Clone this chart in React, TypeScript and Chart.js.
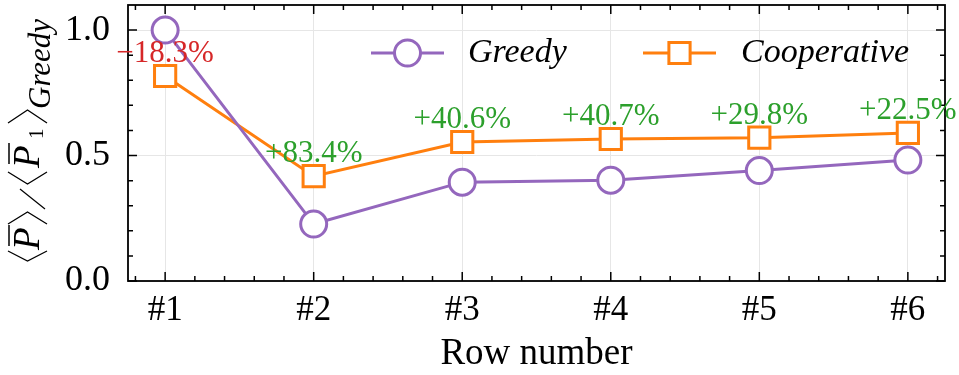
import React, { useEffect, useRef } from "react";
import { Chart, registerables } from "chart.js";

Chart.register(...registerables);

const categories = ["#1", "#2", "#3", "#4", "#5", "#6"];
const greedy = [1.0, 0.227, 0.394, 0.402, 0.44, 0.482];
const cooperative = [0.817, 0.418, 0.554, 0.566, 0.571, 0.59];
const changeLabels = ["\u221218.3%", "+83.4%", "+40.6%", "+40.7%", "+29.8%", "+22.5%"];
const yTicks = [0, 0.5, 1.0];
const seriesNames = ["Greedy", "Cooperative"];
const xTitle = "Row number";

const PURPLE = "#9467bd";
const ORANGE = "#ff7f0e";
const GREEN = "#2ca02c";
const RED = "#d62728";
const GRID = "#e6e6e6";
const SERIF = '"Liberation Serif", "Times New Roman", serif';

function drawMarker(ctx: CanvasRenderingContext2D, kind: string, x: number, y: number, color: string) {
  ctx.save();
  ctx.lineWidth = 3;
  ctx.strokeStyle = color;
  ctx.fillStyle = "#fff";
  ctx.beginPath();
  if (kind === "circle") {
    ctx.arc(x, y, 13, 0, Math.PI * 2);
  } else {
    const h = 15 * Math.SQRT1_2;
    ctx.rect(x - h, y - h, 2 * h, 2 * h);
  }
  ctx.fill();
  ctx.stroke();
  ctx.restore();
}

function drawBracket(ctx: CanvasRenderingContext2D, tipU: number, armU: number) {
  ctx.beginPath();
  ctx.moveTo(armU, -31);
  ctx.lineTo(tipU, -11.5);
  ctx.lineTo(armU, 8);
  ctx.stroke();
}

function drawYLabel(ctx: CanvasRenderingContext2D) {
  ctx.save();
  ctx.translate(39, 262);
  ctx.rotate(-Math.PI / 2);
  ctx.fillStyle = "#000";
  ctx.strokeStyle = "#000";
  ctx.lineWidth = 1.3;
  ctx.textAlign = "left";
  ctx.textBaseline = "alphabetic";
  drawBracket(ctx, 1, 11);
  ctx.font = `italic 37px ${SERIF}`;
  ctx.fillText("P", 12, 0);
  ctx.lineWidth = 1.5;
  ctx.beginPath();
  ctx.moveTo(16, -30);
  ctx.lineTo(37, -30);
  ctx.stroke();
  ctx.lineWidth = 1.3;
  drawBracket(ctx, 50, 38);
  ctx.beginPath();
  ctx.moveTo(53, 6);
  ctx.lineTo(73, -19);
  ctx.stroke();
  drawBracket(ctx, 78, 90);
  ctx.font = `italic 37px ${SERIF}`;
  ctx.fillText("P", 94, 0);
  ctx.lineWidth = 1.5;
  ctx.beginPath();
  ctx.moveTo(98, -30);
  ctx.lineTo(119, -30);
  ctx.stroke();
  ctx.lineWidth = 1.3;
  ctx.font = `21px ${SERIF}`;
  ctx.fillText("1", 123, 4);
  drawBracket(ctx, 152, 139);
  ctx.font = `italic 31px ${SERIF}`;
  ctx.fillText("Greedy", 153, 11);
  ctx.restore();
}

const customPlugin = {
  id: "custom",
  afterDatasetsDraw(chart: any) {
    const ctx: CanvasRenderingContext2D = chart.ctx;
    const { left, right, top, bottom } = chart.chartArea;
    const xs = chart.scales.x;
    const ys = chart.scales.y;

    ctx.save();
    ctx.strokeStyle = "#000";
    ctx.lineWidth = 1.5;
    ctx.beginPath();
    const maj = 9;
    const min = 5;
    for (let i = 0; i < categories.length; i++) {
      const px = xs.getPixelForValue(i);
      ctx.moveTo(px, bottom); ctx.lineTo(px, bottom - maj);
      ctx.moveTo(px, top); ctx.lineTo(px, top + maj);
    }
    for (let k = -1; k <= 26; k++) {
      if (k % 5 === 0) continue;
      const v = k / 5;
      if (v < xs.min || v > xs.max) continue;
      const px = xs.getPixelForValue(v);
      ctx.moveTo(px, bottom); ctx.lineTo(px, bottom - min);
      ctx.moveTo(px, top); ctx.lineTo(px, top + min);
    }
    for (const v of yTicks) {
      const py = ys.getPixelForValue(v);
      ctx.moveTo(left, py); ctx.lineTo(left + maj, py);
      ctx.moveTo(right, py); ctx.lineTo(right - maj, py);
    }
    for (let k = 1; k <= 10; k++) {
      if (k % 5 === 0) continue;
      const py = ys.getPixelForValue(k / 10);
      ctx.moveTo(left, py); ctx.lineTo(left + min, py);
      ctx.moveTo(right, py); ctx.lineTo(right - min, py);
    }
    ctx.stroke();
    ctx.lineWidth = 1.8;
    ctx.strokeRect(left, top, right - left, bottom - top);
    ctx.restore();

    // percentage annotations
    ctx.save();
    ctx.font = `31px ${SERIF}`;
    ctx.textAlign = "center";
    ctx.textBaseline = "alphabetic";
    for (let i = 0; i < cooperative.length; i++) {
      const px = xs.getPixelForValue(i);
      const py = ys.getPixelForValue(cooperative[i]);
      ctx.fillStyle = changeLabels[i].startsWith("+") ? GREEN : RED;
      ctx.fillText(changeLabels[i], px, py - 14);
    }
    ctx.restore();

    // legend
    ctx.save();
    const ly = 53;
    ctx.lineWidth = 3;
    ctx.strokeStyle = PURPLE;
    ctx.beginPath();
    ctx.moveTo(371, ly); ctx.lineTo(444, ly);
    ctx.stroke();
    drawMarker(ctx, "circle", 407.5, ly, PURPLE);
    ctx.strokeStyle = ORANGE;
    ctx.beginPath();
    ctx.moveTo(643, ly); ctx.lineTo(716, ly);
    ctx.stroke();
    drawMarker(ctx, "rect", 679.5, ly, ORANGE);
    ctx.fillStyle = "#000";
    ctx.font = `italic 34px ${SERIF}`;
    ctx.textAlign = "left";
    ctx.textBaseline = "middle";
    ctx.fillText(seriesNames[0], 468, ly);
    ctx.fillText(seriesNames[1], 741, ly);
    ctx.restore();

    // x title
    ctx.save();
    ctx.fillStyle = "#000";
    ctx.font = `37px ${SERIF}`;
    ctx.textAlign = "center";
    ctx.textBaseline = "alphabetic";
    ctx.fillText(xTitle, (left + right) / 2, 364);
    ctx.restore();

    drawYLabel(ctx);
  },
};

export default function App() {
  const ref = useRef<HTMLCanvasElement | null>(null);

  useEffect(() => {
    document.body.style.margin = "0";
    const canvas = ref.current;
    if (!canvas) return;
    const chart = new Chart(canvas, {
      type: "line",
      data: {
        datasets: [
          {
            label: seriesNames[0],
            data: greedy.map((y, i) => ({ x: i, y })),
            borderColor: PURPLE,
            backgroundColor: "#fff",
            borderWidth: 3,
            pointStyle: "circle",
            pointRadius: 13,
            pointBorderWidth: 3,
            pointBackgroundColor: "#fff",
            pointBorderColor: PURPLE,
            tension: 0,
            clip: false,
          },
          {
            label: seriesNames[1],
            data: cooperative.map((y, i) => ({ x: i, y })),
            borderColor: ORANGE,
            backgroundColor: "#fff",
            borderWidth: 3,
            pointStyle: "rect",
            pointRadius: 15,
            pointBorderWidth: 3,
            pointBackgroundColor: "#fff",
            pointBorderColor: ORANGE,
            tension: 0,
            clip: false,
          },
        ],
      },
      options: {
        animation: false,
        responsive: false,
        devicePixelRatio: 1,
        layout: { autoPadding: false, padding: { top: 5, right: 14, left: 0, bottom: 0 } },
        plugins: { legend: { display: false }, tooltip: { enabled: false } },
        scales: {
          x: {
            type: "linear",
            min: -0.25,
            max: 5.25,
            afterBuildTicks: (s: any) => {
              s.ticks = categories.map((_, i) => ({ value: i }));
            },
            afterFit: (s: any) => {
              s.height = 94;
              s.paddingLeft = 0;
              s.paddingRight = 0;
              s.paddingTop = 0;
              s.paddingBottom = 0;
            },
            ticks: {
              callback: (v: any) => categories[Math.round(Number(v))],
              font: { family: SERIF, size: 35 },
              color: "#000",
              padding: 9,
              autoSkip: false,
              maxRotation: 0,
            },
            grid: { color: GRID, lineWidth: 1, drawTicks: false },
            border: { display: false },
          },
          y: {
            min: 0,
            max: 1.1,
            afterBuildTicks: (s: any) => {
              s.ticks = yTicks.map((v) => ({ value: v }));
            },
            afterFit: (s: any) => {
              s.width = 128;
              s.paddingLeft = 0;
              s.paddingRight = 0;
              s.paddingTop = 0;
              s.paddingBottom = 0;
            },
            ticks: {
              callback: (v: any) => Number(v).toFixed(1),
              font: { family: SERIF, size: 36 },
              color: "#000",
              padding: 18,
            },
            grid: { color: GRID, lineWidth: 1, drawTicks: false },
            border: { display: false },
          },
        },
      },
      plugins: [customPlugin],
    });
    return () => chart.destroy();
  }, []);

  return (
    <div style={{ width: 959, height: 375 }}>
      <canvas ref={ref} width={959} height={375} />
    </div>
  );
}
